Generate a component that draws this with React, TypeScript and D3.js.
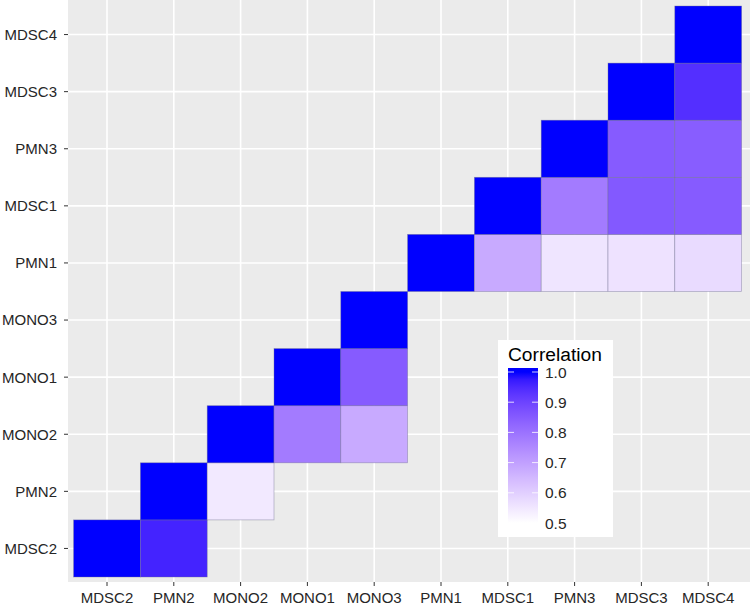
import React from "react";
import * as d3 from "d3";

const categories = ["MDSC2", "PMN2", "MONO2", "MONO1", "MONO3", "PMN1", "MDSC1", "PMN3", "MDSC3", "MDSC4"];

// cells: row (y) category, column (x) category, correlation
const cellRows = ["MDSC2", "MDSC2", "PMN2", "PMN2", "MONO2", "MONO2", "MONO2", "MONO1", "MONO1", "MONO3", "PMN1", "PMN1", "PMN1", "PMN1", "PMN1", "MDSC1", "MDSC1", "MDSC1", "MDSC1", "PMN3", "PMN3", "PMN3", "MDSC3", "MDSC3", "MDSC4"];
const cellCols = ["MDSC2", "PMN2", "PMN2", "MONO2", "MONO2", "MONO1", "MONO3", "MONO1", "MONO3", "MONO3", "PMN1", "MDSC1", "PMN3", "MDSC3", "MDSC4", "MDSC1", "PMN3", "MDSC3", "MDSC4", "PMN3", "MDSC3", "MDSC4", "MDSC3", "MDSC4", "MDSC4"];
const cellValues = [1.0, 0.96, 1.0, 0.545, 1.0, 0.78, 0.68, 1.0, 0.85, 1.0, 1.0, 0.68, 0.555, 0.56, 0.575, 1.0, 0.78, 0.855, 0.85, 1.0, 0.85, 0.845, 1.0, 0.94, 1.0];

const legendTicks = [1.0, 0.9, 0.8, 0.7, 0.6, 0.5];
const legendTitle = "Correlation";

const W = 750;
const H = 606;
const panel = { left: 68, right: 750, top: 0, bottom: 582 };
const FONT = "'Liberation Sans', Arial, Helvetica, sans-serif";

export default function App() {
  const x = d3.scaleBand<string>().domain(categories).range([73.6, 741.6]).padding(0);
  const y = d3.scaleBand<string>().domain(categories).range([577, 6]).padding(0);
  const color = d3.scaleLinear<string>().domain([0.5, 1.0]).range(["white", "blue"]).interpolate(d3.interpolateLab).clamp(true);

  const cells = cellValues.map((v, i) => ({ r: cellRows[i], c: cellCols[i], v }));

  // legend colorbar
  const barX = 508;
  const barW = 30;
  const ly = d3.scaleLinear().domain([0.5, 1.0]).range([523, 372]);
  const barTop = ly(1.0) - 4;
  const barBottom = ly(0.5) + 4;
  const stops = d3.range(0, 21).map((i) => 0.5 + (i / 20) * 0.5);

  return (
    <svg width={W} height={H} style={{ position: "absolute", left: 0, top: 0, background: "white" }} fontFamily={FONT}>
      <defs>
        <linearGradient id="cbar" x1="0" y1="1" x2="0" y2="0">
          {stops.map((s, i) => (
            <stop key={i} offset={`${(((ly(s) - barBottom) / (barTop - barBottom)) * 100).toFixed(2)}%`} stopColor={color(s)} />
          ))}
        </linearGradient>
      </defs>
      <rect x={panel.left} y={panel.top} width={panel.right - panel.left} height={panel.bottom - panel.top} fill="#EBEBEB" />
      {categories.map((c) => (
        <line key={"gx" + c} x1={x(c)! + x.bandwidth() / 2} x2={x(c)! + x.bandwidth() / 2} y1={panel.top} y2={panel.bottom} stroke="white" strokeWidth={1.6} />
      ))}
      {categories.map((c) => (
        <line key={"gy" + c} y1={y(c)! + y.bandwidth() / 2} y2={y(c)! + y.bandwidth() / 2} x1={panel.left} x2={panel.right} stroke="white" strokeWidth={1.6} />
      ))}
      {cells.map((d, i) => (
        <rect
          key={i}
          x={x(d.c)}
          y={y(d.r)}
          width={x.bandwidth()}
          height={y.bandwidth()}
          fill={color(d.v)}
          stroke="#6f6f8f"
          strokeOpacity={0.55}
          strokeWidth={0.7}
        />
      ))}
      {/* x axis */}
      {categories.map((c) => (
        <g key={"xt" + c} transform={`translate(${x(c)! + x.bandwidth() / 2},0)`}>
          <line y1={panel.bottom} y2={panel.bottom + 4} stroke="#333" strokeWidth={1} />
          <text y={603} textAnchor="middle" fontSize={15} fill="#262626">{c}</text>
        </g>
      ))}
      {/* y axis */}
      {categories.map((c) => (
        <g key={"yt" + c} transform={`translate(0,${y(c)! + y.bandwidth() / 2})`}>
          <line x1={panel.left - 4} x2={panel.left} stroke="#333" strokeWidth={1} />
          <text x={57} dy="0.36em" textAnchor="end" fontSize={15} fill="#262626">{c}</text>
        </g>
      ))}
      {/* legend */}
      <rect x={498} y={340} width={115} height={197} fill="white" />
      <text x={508} y={361} fontSize={19.2} fill="black">{legendTitle}</text>
      <rect x={barX} y={barTop} width={barW} height={barBottom - barTop} fill="url(#cbar)" />
      {legendTicks.map((t) => (
        <g key={"lt" + t}>
          <line x1={barX} x2={barX + barW * 0.2} y1={ly(t)} y2={ly(t)} stroke="white" strokeWidth={0.8} />
          <line x1={barX + barW * 0.8} x2={barX + barW} y1={ly(t)} y2={ly(t)} stroke="white" strokeWidth={0.8} />
          <text x={545} y={ly(t)} dy="0.36em" fontSize={15.5} fill="#262626">{t.toFixed(1)}</text>
        </g>
      ))}
    </svg>
  );
}
